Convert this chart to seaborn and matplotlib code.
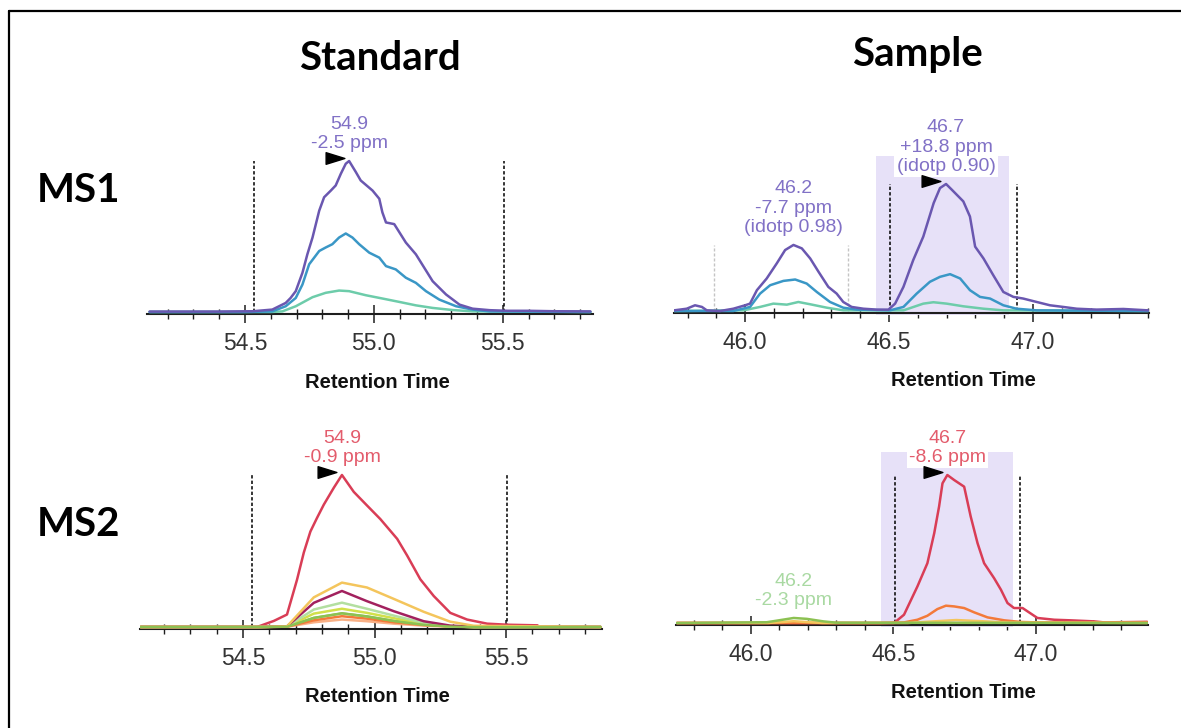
import matplotlib
matplotlib.use("Agg")
import matplotlib.pyplot as plt
from matplotlib.lines import Line2D
from matplotlib.patches import Rectangle
from matplotlib.path import Path
from matplotlib.ticker import MultipleLocator, FormatStrFormatter
from matplotlib.transforms import ScaledTranslation
import numpy as np
import seaborn as sns

sns.set_theme(style="white")
plt.rcParams["font.family"] = ["Liberation Sans", "DejaVu Sans"]

# ---------------------------------------------------------------------------
# Standard, MS1: precursor isotope traces (relative intensity, %)
std_ms1_m0_rt = [54.13, 54.40, 54.53, 54.606, 54.658, 54.677, 54.697, 54.723, 54.742,
                 54.762, 54.788, 54.807, 54.833, 54.852, 54.872, 54.891, 54.904, 54.930,
                 54.949, 54.995, 55.021, 55.033, 55.047, 55.079, 55.124, 55.163, 55.228,
                 55.280, 55.332, 55.383, 55.45, 55.52, 55.60, 55.70, 55.84]
std_ms1_m0_int = [0.3, 0.3, 0.5, 1.6, 6.0, 9.3, 13.8, 26.0, 38.2, 49.3, 67.1, 76.0, 80.4,
                  83.8, 91.6, 98.2, 100.0, 92.7, 87.1, 80.4, 75.0, 66.0, 59.3, 58.2, 46.0,
                  38.2, 20.4, 11.6, 4.9, 2.2, 1.2, 0.8, 0.8, 0.5, 0.4]
std_ms1_m1_rt = [54.13, 54.50, 54.606, 54.658, 54.697, 54.723, 54.749, 54.788, 54.813,
                 54.839, 54.865, 54.891, 54.917, 54.943, 54.982, 55.021, 55.047, 55.085,
                 55.124, 55.163, 55.202, 55.254, 55.319, 55.383, 55.448, 55.84]
std_ms1_m1_int = [0.0, 0.0, 0.4, 3.8, 9.3, 18.2, 31.6, 40.4, 42.7, 44.9, 49.3, 52.0, 49.3,
                  44.9, 39.3, 36.0, 30.4, 28.2, 22.7, 19.3, 13.8, 8.2, 3.8, 1.6, 0.4, 0.0]
std_ms1_m2_rt = [54.13, 54.60, 54.645, 54.697, 54.762, 54.813, 54.865, 54.904, 54.969,
                 55.034, 55.098, 55.163, 55.228, 55.306, 55.383, 55.84]
std_ms1_m2_int = [0.0, 0.0, 0.4, 3.8, 9.8, 12.7, 14.2, 13.8, 11.1, 8.9, 6.7, 4.4, 2.7,
                  1.3, 0.4, 0.0]

# Sample, MS1
smp_ms1_m0_rt = [45.753, 45.797, 45.826, 45.850, 45.867, 45.913, 45.959, 46.000, 46.017,
                 46.041, 46.075, 46.110, 46.139, 46.168, 46.197, 46.226, 46.255, 46.289,
                 46.318, 46.341, 46.370, 46.411, 46.457, 46.498, 46.521, 46.550, 46.584,
                 46.619, 46.655, 46.677, 46.698, 46.718, 46.758, 46.781, 46.799, 46.828,
                 46.862, 46.897, 46.932, 46.966, 47.013, 47.059, 47.105, 47.152, 47.221,
                 47.314, 47.400]
smp_ms1_m0_int = [0.5, 1.8, 4.5, 3.2, 0.5, 0.0, 1.8, 4.5, 5.8, 16.4, 25.6, 37.5, 48.0,
                  52.0, 49.3, 41.4, 30.9, 19.0, 13.7, 7.1, 3.2, 1.8, 1.1, 1.1, 5.8, 19.0,
                  40.1, 58.6, 85.0, 96.8, 100.0, 95.5, 86.3, 74.4, 50.7, 41.4, 28.2, 15.0,
                  11.1, 9.8, 7.1, 4.5, 3.2, 1.8, 1.1, 1.6, 0.5]
smp_ms1_m1_rt = [45.753, 45.959, 46.017, 46.052, 46.087, 46.133, 46.174, 46.214, 46.249,
                 46.295, 46.341, 46.388, 46.503, 46.550, 46.596, 46.642, 46.677, 46.712,
                 46.747, 46.781, 46.816, 46.851, 46.897, 46.943, 47.013, 47.400]
smp_ms1_m1_int = [0.0, 0.0, 3.2, 13.7, 20.3, 23.7, 24.8, 21.6, 15.0, 7.1, 2.6, 1.1, 0.5,
                  3.2, 13.7, 23.0, 26.9, 29.0, 25.6, 16.4, 11.1, 9.8, 4.5, 1.8, 0.5, 0.0]
smp_ms1_m2_rt = [45.753, 45.994, 46.052, 46.098, 46.145, 46.185, 46.226, 46.284, 46.341,
                 46.550, 46.619, 46.654, 46.700, 46.758, 46.828, 46.897, 47.400]
smp_ms1_m2_int = [0.0, 0.5, 3.2, 5.8, 5.0, 7.1, 5.3, 2.6, 0.5, 0.5, 5.8, 6.9, 5.8, 3.7,
                  1.8, 0.5, 0.0]

# Standard, MS2: fragment ion traces
std_ms2_main_rt = [54.11, 54.40, 54.553, 54.617, 54.667, 54.705, 54.731, 54.756, 54.781,
                   54.807, 54.845, 54.876, 54.921, 54.971, 55.022, 55.086, 55.124, 55.174,
                   55.225, 55.288, 55.352, 55.428, 55.504, 55.62]
std_ms2_main_int = [0.0, 0.0, 0.0, 4.0, 8.2, 31.0, 49.0, 62.8, 71.7, 80.5, 91.6, 100.0,
                    88.9, 80.0, 71.0, 58.0, 47.0, 31.4, 20.4, 9.3, 4.9, 2.2, 1.5, 1.1]
std_ms2_frag_rt = [54.11, 54.56, 54.667, 54.769, 54.876, 54.971, 55.073, 55.187, 55.288,
                   55.377, 55.86]
std_ms2_peach = [0, 0, 0.2, 3.1, 4.9, 3.8, 2.2, 0.9, 0.2, 0, 0]
std_ms2_orange = [0, 0, 0.2, 4.4, 7.1, 5.5, 3.1, 1.3, 0.4, 0, 0]
std_ms2_magenta = [0, 0, 0.4, 15.9, 23.7, 17.0, 10.4, 3.8, 0.9, 0.2, 0]
std_ms2_yellow = [0, 0, 0.4, 19.5, 29.2, 26.0, 18.5, 10.0, 3.5, 0.8, 0]
std_ms2_lime = [0, 0, 0.3, 8.8, 12.0, 9.3, 5.8, 2.2, 0.4, 0, 0]
std_ms2_mint = [0, 0, 0.3, 11.5, 16.0, 12.0, 7.5, 2.7, 0.4, 0, 0]
std_ms2_green = [0, 0, 0.2, 6.0, 9.0, 7.0, 4.0, 1.5, 0.3, 0, 0]

# Sample, MS2
smp_ms2_main_rt = [45.74, 46.40, 46.502, 46.537, 46.584, 46.619, 46.643, 46.660, 46.672,
                   46.689, 46.713, 46.748, 46.771, 46.795, 46.818, 46.853, 46.877, 46.900,
                   46.923, 46.953, 46.970, 47.005, 47.064, 47.122, 47.204, 47.239, 47.39]
smp_ms2_main_int = [0.0, 0.0, 0.0, 5.6, 24.7, 40.4, 60.7, 78.7, 94.4, 100.0, 96.6, 92.1,
                    71.9, 53.9, 40.4, 30.3, 22.5, 13.5, 10.1, 10.1, 7.9, 3.4, 2.2, 1.8,
                    1.1, 0.4, 0.8]
smp_ms2_orange_rt = [45.74, 46.45, 46.537, 46.584, 46.619, 46.654, 46.684, 46.713, 46.748,
                     46.783, 46.830, 46.889, 46.947, 47.006, 47.39]
smp_ms2_orange_int = [0, 0, 0.4, 2.2, 4.9, 9.4, 11.7, 11.2, 10.1, 7.2, 3.8, 1.8, 0.7, 0.4,
                      0.4]
smp_ms2_yellow_rt = [45.74, 46.06, 46.15, 46.25, 46.55, 46.65, 46.72, 46.80, 46.90, 47.39]
smp_ms2_yellow_int = [0, 0, 1.2, 0, 0, 1.2, 2.0, 1.3, 0.3, 0]
smp_ms2_green_rt = [45.74, 46.055, 46.114, 46.150, 46.196, 46.254, 46.30, 47.39]
smp_ms2_green_int = [0, 0.5, 2.3, 3.4, 2.8, 1.1, 0.2, 0]

# Integration boundaries and peak labels
std_bounds = [54.535, 55.505]
smp_bounds = [46.505, 46.945]
smp_alt_bounds = [45.892, 46.356]
smp_window = [46.455, 46.918]
smp_window_top = {"MS1": 122.0, "MS2": 115.5}

std_ms1_label = "54.9\n-2.5 ppm"
std_ms2_label = "54.9\n-0.9 ppm"
smp_ms1_label = "46.7\n+18.8 ppm\n(idotp 0.90)"
smp_ms1_alt_label = "46.2\n-7.7 ppm\n(idotp 0.98)"
smp_ms2_label = "46.7\n-8.6 ppm"
smp_ms2_alt_label = "46.2\n-2.3 ppm"

col_titles = ["Standard", "Sample"]
row_titles = ["MS1", "MS2"]
x_title = "Retention Time"

# Colours
C_M0, C_M1, C_M2 = "#6a57b0", "#3a97c6", "#6dccaa"
C_MS1_TEXT = "#8171c6"
C_RED, C_RED_TEXT = "#d93d56", "#e35c6c"
C_ORANGE, C_PEACH, C_YELLOW = "#f37a3a", "#f8b086", "#f4c55c"
C_MAGENTA, C_LIME, C_MINT, C_GREEN = "#a2215e", "#d2e04a", "#b3dfa0", "#8cc152"
C_ALT_TEXT = "#a9d9a2"
C_WINDOW = "#e7e1f8"

W, H = 1181, 728
fig = plt.figure(figsize=(W / 100, H / 100), dpi=100)
fig.patch.set_facecolor("white")

PAD_PX = 4


def make_axes(left, right, baseline, top, ppu, xlim, label_xy):
    ax = fig.add_axes([left / W, 1 - (baseline + PAD_PX) / H,
                       (right - left) / W, (baseline + PAD_PX - top) / H])
    ax.set_xlim(*xlim)
    ax.set_ylim(-PAD_PX / ppu, (baseline - top) / ppu)
    ax.set_facecolor("none")
    for s in ("left", "right", "top"):
        ax.spines[s].set_visible(False)
    ax.spines["bottom"].set_position(("data", -1.6 / ppu))
    ax.spines["bottom"].set_color("#1e1e1e")
    ax.spines["bottom"].set_linewidth(1.5)
    ax.set_yticks([])
    ax.xaxis.set_major_locator(MultipleLocator(0.5))
    ax.xaxis.set_minor_locator(MultipleLocator(0.1))
    ax.xaxis.set_major_formatter(FormatStrFormatter("%.1f"))
    ax.tick_params(axis="x", which="major", direction="inout", length=13, width=1.1,
                   color="#1e1e1e", labelcolor="#333333", labelsize=16.5, pad=7,
                   bottom=True)
    ax.tick_params(axis="x", which="minor", direction="inout", length=7, width=1.0,
                   color="#1e1e1e", bottom=True)
    ax.set_xlabel(x_title, fontsize=14.5, fontweight="bold", color="#111111")
    ax.xaxis.label.set_va("center")
    ax.xaxis.set_label_coords(label_xy[0] / W, 1 - label_xy[1] / H,
                              transform=fig.transFigure)
    ax.set_ylabel("")
    return ax


def trace(ax, rt, inten, color, z=3, lw=1.8):
    sns.lineplot(x=rt, y=inten, ax=ax, color=color, linewidth=lw, legend=False,
                 zorder=z, estimator=None)


def apex(rt, inten, lo, hi):
    rt = np.asarray(rt)
    inten = np.asarray(inten)
    m = (rt >= lo) & (rt <= hi)
    i = np.argmax(np.where(m, inten, -np.inf))
    return rt[i], inten[i]


FLAG = Path([(-1, 0.62), (1, 0), (-1, -0.62), (-1, 0.62)],
            [Path.MOVETO, Path.LINETO, Path.LINETO, Path.CLOSEPOLY])


def peak_label(ax, x, y, text, color, arrow=True, box=True):
    kw = dict(boxstyle="square,pad=0.12", fc="white", ec="none") if box else None
    ax.annotate(text, xy=(x, y), xytext=(0, 6.5), textcoords="offset points",
                ha="center", va="bottom", color=color, fontsize=14, linespacing=1.18,
                bbox=kw, zorder=6, annotation_clip=False)
    if arrow:
        off = ScaledTranslation(-10.5 / 72, 2.0 / 72, fig.dpi_scale_trans)
        ax.plot([x], [y], marker=FLAG, markersize=13.5, color="black", linestyle="none",
                transform=ax.transData + off, clip_on=False, zorder=7)


def bound_lines(ax, xs, height, color="black", lw=1.1):
    ax.vlines(xs, 0, height, colors=color, linestyles=(0, (2.2, 1.4)), linewidth=lw,
              zorder=2)


# ---- Standard MS1 ----
ax = make_axes(147, 593, 312, 92, 1.51, (54.12, 55.85), (377, 382))
trace(ax, std_ms1_m2_rt, std_ms1_m2_int, C_M2)
trace(ax, std_ms1_m1_rt, std_ms1_m1_int, C_M1)
trace(ax, std_ms1_m0_rt, std_ms1_m0_int, C_M0, z=4)
px, py = apex(std_ms1_m0_rt, std_ms1_m0_int, *std_bounds)
bound_lines(ax, std_bounds, py)
peak_label(ax, px, py, std_ms1_label, C_MS1_TEXT)

# ---- Sample MS1 ----
ax = make_axes(674, 1149, 311, 92, 1.27, (45.753, 47.403), (963, 380))
ax.add_patch(Rectangle((smp_window[0], ax.get_ylim()[0]), smp_window[1] - smp_window[0],
                       smp_window_top["MS1"] - ax.get_ylim()[0], facecolor=C_WINDOW,
                       edgecolor="none", zorder=1))
trace(ax, smp_ms1_m2_rt, smp_ms1_m2_int, C_M2)
trace(ax, smp_ms1_m1_rt, smp_ms1_m1_int, C_M1)
trace(ax, smp_ms1_m0_rt, smp_ms1_m0_int, C_M0, z=4)
px, py = apex(smp_ms1_m0_rt, smp_ms1_m0_int, *smp_bounds)
qx, qy = apex(smp_ms1_m0_rt, smp_ms1_m0_int, *smp_alt_bounds)
bound_lines(ax, smp_bounds, py)
bound_lines(ax, smp_alt_bounds, qy, color="#c4c4c4", lw=1.0)
peak_label(ax, px, py, smp_ms1_label, C_MS1_TEXT)
peak_label(ax, qx, qy, smp_ms1_alt_label, C_MS1_TEXT, arrow=False)

# ---- Standard MS2 ----
ax = make_axes(140, 602, 627, 407, 1.52, (54.108, 55.865), (377, 696))
trace(ax, std_ms2_main_rt, std_ms2_main_int, C_RED)
for vals, c in [(std_ms2_peach, C_PEACH), (std_ms2_orange, C_ORANGE),
                (std_ms2_green, C_GREEN), (std_ms2_lime, C_LIME),
                (std_ms2_mint, C_MINT), (std_ms2_magenta, C_MAGENTA),
                (std_ms2_yellow, C_YELLOW)]:
    trace(ax, std_ms2_frag_rt, vals, c)
trace(ax, std_ms2_frag_rt, std_ms2_green, C_GREEN, z=3.5, lw=1.6)
px, py = apex(std_ms2_main_rt, std_ms2_main_int, *std_bounds)
bound_lines(ax, std_bounds, py)
peak_label(ax, px, py, std_ms2_label, C_RED_TEXT)

# ---- Sample MS2 ----
ax = make_axes(676, 1148, 623, 407, 1.48, (45.737, 47.393), (963, 693))
ax.add_patch(Rectangle((smp_window[0], ax.get_ylim()[0]), smp_window[1] - smp_window[0],
                       smp_window_top["MS2"] - ax.get_ylim()[0], facecolor=C_WINDOW,
                       edgecolor="none", zorder=1))
trace(ax, smp_ms2_main_rt, smp_ms2_main_int, C_RED)
trace(ax, smp_ms2_orange_rt, smp_ms2_orange_int, C_ORANGE)
trace(ax, smp_ms2_yellow_rt, smp_ms2_yellow_int, C_YELLOW)
trace(ax, smp_ms2_green_rt, smp_ms2_green_int, C_GREEN, z=3.5)
px, py = apex(smp_ms2_main_rt, smp_ms2_main_int, *smp_bounds)
gx, gy = apex(smp_ms2_green_rt, smp_ms2_green_int, *smp_alt_bounds)
bound_lines(ax, smp_bounds, py)
peak_label(ax, px, py, smp_ms2_label, C_RED_TEXT)
peak_label(ax, gx, gy, smp_ms2_alt_label, C_ALT_TEXT, arrow=False, box=False)

# ---- Row / column headings ----
title_kw = dict(family=["Lato", "DejaVu Sans"], fontweight="bold", fontsize=29,
                color="black", ha="center", va="baseline")
fig.text(380 / W, 1 - 70 / H, col_titles[0], **title_kw)
fig.text(917 / W, 1 - 66 / H, col_titles[1], **title_kw)
fig.text(78 / W, 1 - 202 / H, row_titles[0], **title_kw)
fig.text(78 / W, 1 - 536 / H, row_titles[1], **title_kw)

# ---- Frame (top and left edges) ----
fig.add_artist(Line2D([9.5 / W, 1.0], [1 - 10.5 / H, 1 - 10.5 / H],
                      transform=fig.transFigure, color="black", linewidth=1.6))
fig.add_artist(Line2D([9.5 / W, 9.5 / W], [0.0, 1 - 10.5 / H],
                      transform=fig.transFigure, color="black", linewidth=1.6))

fig.savefig("out.png", dpi=100, facecolor="white")
